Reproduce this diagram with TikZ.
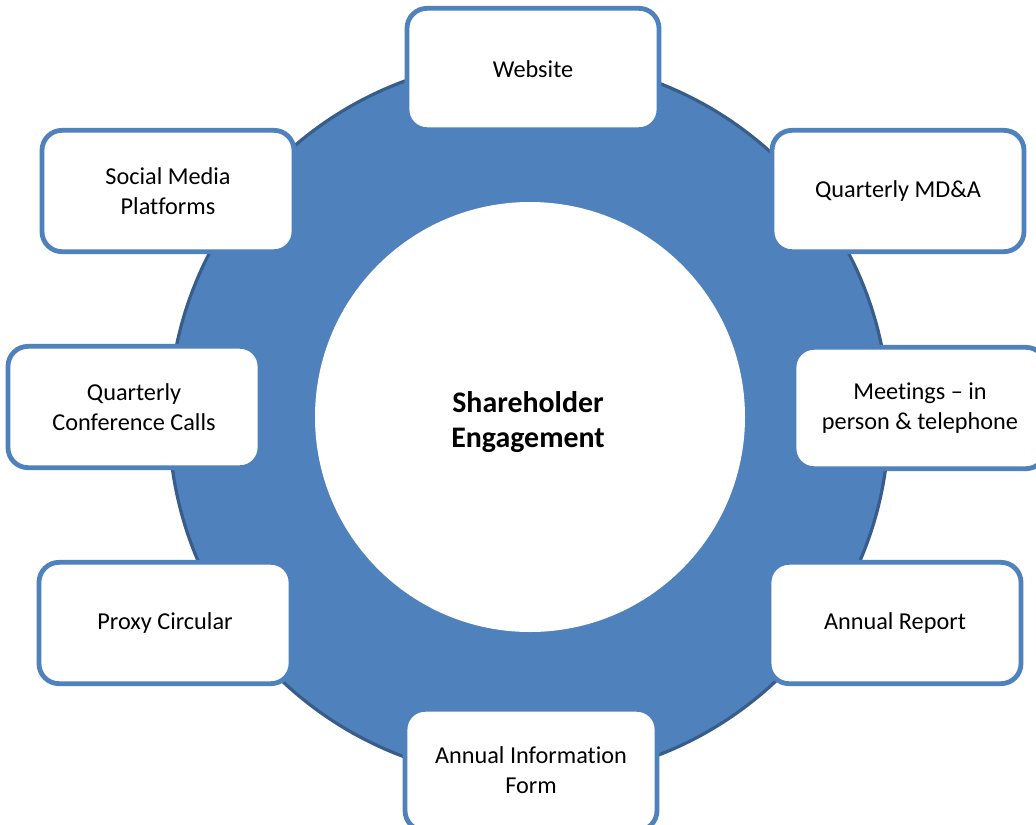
\documentclass[tikz,border=0pt]{standalone}
\usepackage{fontspec}
\setmainfont{Carlito}[Ligatures = NoCommon]
\usepackage{tikz}
\usetikzlibrary{shapes.geometric, positioning}
\definecolor{sablue}{HTML}{4F81BD}
\definecolor{sadark}{HTML}{385D8A}
\tikzstyle{canal} = [rectangle, rounded corners = 15pt, minimum width = 189pt, minimum height = 91pt, text centered, align = center, draw = sablue, line width = 3.6pt, fill = white, font = \fontsize{18.2}{22.2}\selectfont]

\begin{document}
\begin{tikzpicture}[x = 0.75pt, y = -0.75pt]
\useasboundingbox (0,0) rectangle (1036,825);
% ring and hub
\node (ring) [circle, minimum size = 540pt, inner sep = 0pt, fill = sablue, draw = sadark, line width = 2.4pt] at (529,419) {};
\node (hub) [circle, minimum size = 322.5pt, inner sep = 0pt, fill = white] at (530,417) {};
\node (title) [align = center, font = \fontsize{22.4}{26.5}\selectfont\bfseries] at (528,422) {Shareholder\\Engagement};
% channels
\node (web) [canal] at (533,69) {Website};
\node (social) [canal] at (168,191) {Social Media\\Platforms};
\node (mda) [canal] at (898,191) {Quarterly MD\&A};
\node (calls) [canal] at (134,407) {Quarterly\\Conference Calls};
\node (meet) [canal] at (920,408) {Meetings -- in\\person \& telephone};
\node (proxy) [canal] at (165,623) {Proxy Circular};
\node (report) [canal] at (895,623) {Annual Report};
\node (aif) [canal] at (531,770) {Annual Information\\Form};
\end{tikzpicture}
\end{document}
